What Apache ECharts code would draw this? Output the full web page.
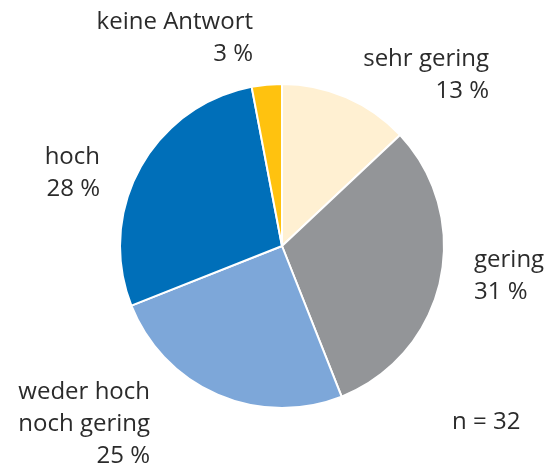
<!DOCTYPE html>
<html>
<head>
<meta charset="utf-8">
<script src="https://cdn.jsdelivr.net/npm/echarts@6/dist/echarts.min.js"></script>
<style>
	html, body { margin: 0; padding: 0; background: #fff; }
	#chart { width: 550px; height: 470px; }
</style>
</head>
<body>
<div id="chart"></div>
<script>
	var categories = ["sehr gering", "gering", "weder hoch\nnoch gering", "hoch", "keine Antwort"]; //Kategorien
	var percentValues = [13, 31, 25, 28, 3]; //Anteile in %
	var colors = ["#FFF0D2", "#939598", "#7DA7D9", "#006FB9", "#FFC20F"];
	var sampleNote = "n = 32";

	//Label-Positionen (x, y, Ausrichtung)
	var labelPos = [
		[489, 75, "right"],
		[474, 276, "left"],
		[150, 424, "right"],
		[100, 173, "right"],
		[253, 38, "right"]
	];

	var pieData = categories.map(function(name, i) {
		return { name: name, value: percentValues[i], itemStyle: { color: colors[i] } };
	});

	var chart = echarts.init(document.getElementById("chart"));
	var option = {
		animation: false,
		textStyle: { fontFamily: "Open Sans" },
		graphic: [{
			type: "text",
			left: 452,
			top: 410,
			style: { text: sampleNote, fontSize: 24, fill: "#2b2b2b", fontFamily: "Open Sans" }
		}],
		series: [{
			type: "pie",
			center: [282, 246],
			radius: 162,
			startAngle: 90,
			clockwise: true,
			data: pieData,
			itemStyle: { borderColor: "#fff", borderWidth: 2 },
			label: {
				show: true,
				position: "outside",
				fontSize: 24,
				lineHeight: 32,
				color: "#2b2b2b",
				overflow: "none",
				formatter: function(p) {
					return p.name + "\n" + p.value + " %";
				}
			},
			labelLine: { show: false },
			labelLayout: function(p) {
				var lp = labelPos[p.dataIndex];
				return { x: lp[0], y: lp[1], align: lp[2], verticalAlign: "middle", hideOverlap: false };
			},
			emphasis: { disabled: true }
		}]
	};
	chart.setOption(option);
</script>
</body>
</html>
